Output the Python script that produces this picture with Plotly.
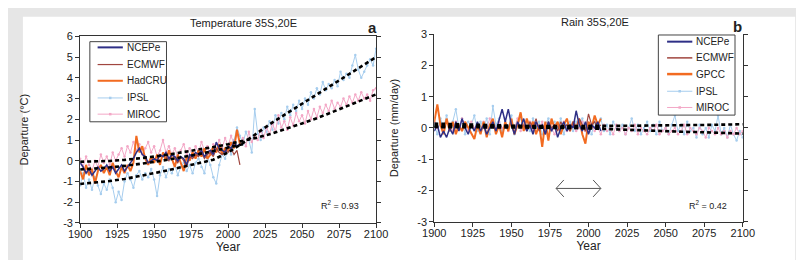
import plotly.graph_objects as go

W, H = 804, 260
def px(x): return x / W
def py(y): return 1 - y / H

# ---------------- data ----------------
years_model = list(range(1900, 2101, 2))
years_obs = list(range(1900, 2009, 2))
years_ecmwf = list(range(1958, 2009, 2))
fit_years = list(range(1900, 2101, 10))
fit_years_obs = list(range(1900, 2011, 10))
x_ticks = [1900, 1925, 1950, 1975, 2000, 2025, 2050, 2075, 2100]
temp_ticks = [-3, -2, -1, 0, 1, 2, 3, 4, 5, 6]
rain_ticks = [-3, -2, -1, 0, 1, 2, 3]

temp_ipsl = [
    -1.2, -0.6, -1.3, -0.9, -1.4, -0.8, -1.2, -1.6, -1.1, -1.4,
    -0.9, -1.3, -2.0, -1.5, -1.9, -1.0, -0.6, -0.9, -1.3, -0.7,
    -0.5, -0.9, -0.6, -0.8, -0.4, -0.9, -1.7, -0.7, -0.3, -0.8,
    -0.4, -0.6, -0.2, -0.7, -0.3, -0.1, -0.5, -0.2, -0.6, -0.1,
    0.1, -0.3, -0.6, 0.2, -0.2, -0.8, -1.1, -0.2, 0.3, 0.1,
    0.6, 0.3, 1.0, 1.6, 1.2, 0.8, 1.4, 1.0, 0.4, 2.5,
    1.3, 1.0, 1.6, 1.4, 1.9, 1.5, 2.2, 1.8, 2.3, 2.0,
    2.6, 2.2, 2.7, 2.4, 2.9, 2.5, 3.0, 2.7, 3.3, 3.0,
    3.5, 3.2, 3.8, 3.4, 3.7, 3.5, 3.9, 3.6, 4.3, 3.9,
    4.2, 4.0, 4.6, 5.1, 4.4, 4.0, 4.3, 4.6, 4.9, 4.6,
    5.4]
temp_miroc = [
    0.1, -0.3, 0.2, -0.2, -0.5, 0.0, -0.3, 0.3, -0.1, 0.2,
    -0.2, 0.4, 0.0, 0.3, 0.6, 0.2, 0.7, 0.4, 0.9, 0.5,
    0.8, 0.3, 0.6, 0.9, 0.4, 0.7, 0.2, 0.5, 1.0, 0.4,
    0.7, 0.3, 0.6, 0.2, 0.5, 0.8, 0.3, 0.6, 0.2, 0.7,
    0.4, 0.9, 0.5, 0.7, 0.3, 0.8, 0.5, 1.0, 0.6, 1.1,
    0.7, 1.2, 0.8, 1.3, 0.9, 1.1, 0.7, 1.4, 0.9, 1.2,
    1.0, 1.5, 1.1, 1.6, 1.3, 1.8, 1.4, 2.2, 1.6, 1.9,
    1.5, 2.1, 1.7, 2.3, 1.9, 2.2, 1.8, 2.4, 2.0, 2.5,
    2.1, 2.6, 2.3, 2.7, 2.4, 2.9, 2.5, 2.8, 2.6, 3.0,
    2.7, 3.1, 2.8, 3.2, 2.9, 3.3, 3.0, 3.2, 2.9, 3.4,
    3.5]
temp_ncepe = [
    -0.1, -0.3, -0.6, -0.4, -0.7, -0.5, -0.3, -0.5, -0.4, -0.2,
    -0.5, -0.3, -0.6, -0.4, -0.2, -0.5, -0.3, -0.1, 0.1, 0.4,
    0.6, 0.3, 0.2, -0.1, 0.0, 0.1, 0.0, 0.3, 0.2, 0.4,
    0.1, 0.3, 0.2, 0.0, 0.2, 0.1, -0.2, 0.3, 0.2, 0.4,
    0.3, 0.5, 0.2, 0.4, 0.5, 0.3, 0.9, 0.6, 0.5, 0.4,
    0.7, 0.6, 0.9, 0.7, 0.8]
temp_ecmwf = [
    0.2, 0.0, 0.3, 0.1, -0.1, 0.2, 0.0, -0.3, 0.2, 0.1,
    0.3, 0.2, 0.4, 0.1, 0.3, 0.4, 0.2, 0.6, 0.4, 0.3,
    0.5, 0.4, 0.6, 0.3, 0.5, -0.2]
temp_hadcru = [
    -0.5, -0.9, -0.2, -0.7, -0.4, -1.1, -0.5, -0.2, -0.6, -0.3,
    -0.7, -0.1, -0.5, -0.8, -0.3, -0.6, -0.2, -0.5, -0.1, 1.2,
    0.4, 0.7, 0.1, -0.2, 0.2, -0.1, 0.3, -0.2, 0.4, 0.0,
    0.5, 0.1, -0.3, 0.3, -0.1, -0.5, 0.2, 0.0, 0.4, 0.1,
    0.5, 0.2, 0.6, 0.1, 0.3, 0.7, 0.4, 0.8, 0.3, 0.6,
    0.5, 0.9, 0.6, 1.5, 0.8]
temp_fit_ipsl = [-1.12, -1.06, -0.98, -0.88, -0.75, -0.6, -0.45, -0.3, -0.12, 0.05,
                 0.4, 0.85, 1.35, 1.85, 2.3, 2.75, 3.2, 3.65, 4.1, 4.55, 5.0]
temp_fit_miroc = [-0.05, -0.04, -0.01, 0.04, 0.11, 0.2, 0.3, 0.41, 0.53, 0.66,
                  0.8, 0.95, 1.12, 1.32, 1.55, 1.8, 2.05, 2.33, 2.62, 2.9, 3.2]
temp_fit_obs = [-0.42, -0.38, -0.32, -0.25, -0.16, -0.06, 0.06, 0.18, 0.32, 0.47, 0.63, 0.8]

rain_ipsl = [
    0.1, -0.2, 0.3, 0.0, 0.4, -0.1, 0.2, 0.6, 0.0, 0.3,
    -0.2, 0.2, 0.1, 0.4, -0.1, 0.2, 0.0, 0.3, -0.2, 0.7,
    0.1, 0.3, -0.1, 0.2, 0.0, 0.4, -0.2, 0.1, 0.3, 0.0,
    0.2, -0.1, 0.3, 0.0, 0.2, -0.2, 0.1, 0.3, -0.1, 0.2,
    0.0, 0.3, -0.2, 0.1, 0.2, -0.1, 0.2, 0.0, 0.3, -0.1,
    0.1, -0.2, 0.2, 0.0, 0.3, -0.1, 0.1, -0.2, 0.2, 0.0,
    -0.1, 0.1, -0.2, 0.0, 0.3, -0.1, 0.1, -0.2, 0.0, 0.2,
    -0.1, 0.1, -0.2, 0.2, -0.1, 0.0, -0.2, 0.1, 0.4, -0.1,
    0.1, -0.2, 0.2, -0.1, 0.0, -0.3, 0.1, -0.2, 0.0, -0.3,
    0.1, -0.1, 0.4, -0.2, 0.0, -0.3, 0.1, -0.2, -0.4, -0.1,
    -0.3]
rain_miroc = [
    0.2, 0.0, 0.1, -0.1, 0.2, 0.1, -0.1, 0.2, 0.0, 0.3,
    0.1, -0.1, 0.2, 0.0, 0.1, -0.1, 0.2, 0.0, 0.3, 0.1,
    -0.1, 0.2, 0.0, 0.1, -0.1, 0.2, 0.0, 0.3, -0.1, 0.1,
    0.0, 0.2, -0.1, 0.1, 0.0, 0.2, -0.1, 0.1, 0.0, -0.2,
    0.1, 0.0, 0.2, -0.1, 0.0, 0.1, -0.1, 0.0, 0.2, -0.1,
    0.0, 0.1, -0.1, 0.0, -0.2, 0.1, -0.1, 0.0, -0.2, 0.1,
    -0.1, 0.0, -0.2, 0.0, -0.1, 0.1, -0.2, 0.0, -0.1, -0.2,
    0.0, -0.1, 0.1, -0.2, -0.1, 0.0, -0.2, -0.1, 0.0, -0.2,
    -0.1, 0.1, -0.2, 0.0, -0.1, -0.2, 0.0, -0.1, -0.3, 0.0,
    -0.1, -0.2, 0.0, -0.2, -0.1, -0.3, -0.1, -0.2, 0.0, -0.2,
    -0.1]
rain_ncepe = [
    -0.1, 0.1, -0.3, -0.1, -0.3, 0.0, -0.2, 0.2, -0.1, 0.3,
    0.0, -0.2, 0.1, -0.1, 0.2, -0.1, 0.1, -0.2, 0.0, 0.2,
    -0.1, 0.3, 0.6, 0.2, 0.6, 0.1, -0.2, 0.2, 0.0, 0.3,
    -0.1, 0.1, -0.2, 0.2, 0.0, 0.1, -0.2, 0.2, -0.1, 0.1,
    -0.3, 0.0, 0.2, -0.1, 0.1, 0.0, 0.55, 0.1, -0.1, 0.2,
    -0.2, 0.1, 0.0, 0.2, -0.1]
rain_ecmwf = [
    0.1, -0.1, 0.2, 0.0, 0.3, -0.1, 0.1, -0.2, 0.2, 0.0,
    0.1, -0.1, 0.2, 0.0, 0.1, -0.1, 0.2, 0.0, 0.3, 0.1,
    -0.1, 0.45, 0.1, 0.2, 0.0, 0.1]
rain_gpcc = [
    0.2, 0.75, 0.1, -0.2, 0.3, -0.1, 0.2, -0.2, 0.1, -0.1,
    0.2, 0.0, -0.2, -0.35, 0.1, -0.2, 0.2, -0.3, 0.1, 0.3,
    -0.2, 0.1, -0.3, 0.2, -0.1, 0.3, -0.2, 0.1, 0.5, -0.1,
    0.3, 0.0, 0.2, -0.2, 0.1, -0.6, 0.2, -0.4, 0.3, 0.0,
    0.2, -0.2, 0.1, 0.3, -0.1, 0.2, 0.0, 0.3, -0.2, -0.5,
    0.2, 0.0, 0.4, 0.1, 0.3]
rain_fit_ipsl = [0.14, 0.13, 0.12, 0.10, 0.09, 0.07, 0.06, 0.04, 0.02, 0.0,
                 -0.02, -0.03, -0.05, -0.07, -0.08, -0.10, -0.12, -0.13, -0.15, -0.16, -0.18]
rain_fit_miroc = [0.05, 0.05, 0.05, 0.05, 0.05, 0.05, 0.05, 0.05, 0.06, 0.06,
                  0.06, 0.06, 0.07, 0.07, 0.08, 0.08, 0.09, 0.10, 0.10, 0.11, 0.12]
rain_fit_obs = [0.03, 0.03, 0.02, 0.02, 0.02, 0.01, 0.01, 0.01, 0.0, 0.0, 0.0, 0.0]

# ---------------- style ----------------
C_NCEP = "#2e2f86"
C_ECMWF = "#a0463f"
C_OBS = "#f26b21"
C_IPSL = "#a6cdee"
C_MIROC = "#f3a7c6"
FONT = "Liberation Sans, Arial, sans-serif"
TXT = "#222222"

fig = go.Figure()

def add_panel(xa, ya, ipsl, miroc, obs, ecmwf, ncepe, fits, obs_name):
    fig.add_trace(go.Scatter(x=years_model, y=ipsl, name="IPSL", mode="lines+markers",
                             line=dict(color=C_IPSL, width=1), marker=dict(size=2.5, color=C_IPSL),
                             xaxis=xa, yaxis=ya, showlegend=False))
    fig.add_trace(go.Scatter(x=years_model, y=miroc, name="MIROC", mode="lines+markers",
                             line=dict(color=C_MIROC, width=1), marker=dict(size=2.5, color=C_MIROC),
                             xaxis=xa, yaxis=ya, showlegend=False))
    fig.add_trace(go.Scatter(x=years_obs, y=obs, name=obs_name, mode="lines",
                             line=dict(color=C_OBS, width=2), xaxis=xa, yaxis=ya, showlegend=False))
    fig.add_trace(go.Scatter(x=years_ecmwf, y=ecmwf, name="ECMWF", mode="lines",
                             line=dict(color=C_ECMWF, width=1.2), xaxis=xa, yaxis=ya, showlegend=False))
    fig.add_trace(go.Scatter(x=years_obs, y=ncepe, name="NCEPe", mode="lines",
                             line=dict(color=C_NCEP, width=1.5), xaxis=xa, yaxis=ya, showlegend=False))
    for fx, fy in fits:
        fig.add_trace(go.Scatter(x=fx, y=fy, mode="lines", name="trend",
                                 line=dict(color="black", width=2.6, dash="4px,3px"),
                                 xaxis=xa, yaxis=ya, showlegend=False))

add_panel("x", "y", temp_ipsl, temp_miroc, temp_hadcru, temp_ecmwf, temp_ncepe,
          [(fit_years, temp_fit_ipsl), (fit_years, temp_fit_miroc), (fit_years_obs, temp_fit_obs)],
          "HadCRU")
add_panel("x2", "y2", rain_ipsl, rain_miroc, rain_gpcc, rain_ecmwf, rain_ncepe,
          [(fit_years, rain_fit_ipsl), (fit_years, rain_fit_miroc), (fit_years_obs, rain_fit_obs)],
          "GPCC")

axis_common = dict(showgrid=False, zeroline=False, showline=True, linecolor="#333333", linewidth=1,
                   ticks="outside", ticklen=4, tickcolor="#333333",
                   tickfont=dict(family=FONT, size=11, color=TXT))

fig.update_layout(
    width=W, height=H, margin=dict(l=0, r=0, t=0, b=0),
    paper_bgcolor="#e6e6e6", plot_bgcolor="white",
    font=dict(family=FONT, color=TXT),
    showlegend=False,
    xaxis=dict(domain=[px(62), px(367)], range=[1900, 2100], tickvals=x_ticks, mirror=True,
               anchor="y", ticklabelstandoff=-3,
               title=dict(text="Year", font=dict(size=12), standoff=2), **axis_common),
    yaxis=dict(domain=[py(219), py(23.5)], range=[-3, 6], tickvals=temp_ticks,
               ticktext=[str(v) for v in temp_ticks], mirror="ticks",
               anchor="x", title=dict(text="Departure (°C)", font=dict(size=11), standoff=32),
               **axis_common),
    xaxis2=dict(domain=[px(427), px(745)], range=[1900, 2100], tickvals=x_ticks, mirror=False,
                anchor="y2", ticklabelstandoff=-3,
                title=dict(text="Year", font=dict(size=12), standoff=2), **axis_common),
    yaxis2=dict(domain=[py(218), py(21)], range=[-3, 3], tickvals=rain_ticks,
                ticktext=[str(v) for v in rain_ticks], mirror="ticks",
                anchor="x2", title=dict(text="Departure (mm/day)", font=dict(size=11), standoff=16),
                **axis_common),
)

shapes = [
    dict(type="rect", xref="paper", yref="paper", x0=px(3), x1=px(799), y0=0, y1=py(3),
         fillcolor="white", line=dict(width=0), layer="below"),
    # double arrow (rain panel)
    dict(type="path", xref="x2", yref="y2",
         path="M 1979,-1.93 L 2008,-1.93 M 1984,-1.66 L 1979,-1.93 L 1984,-2.2 M 2003,-1.66 L 2008,-1.93 L 2003,-2.2",
         line=dict(color="#555555", width=1)),
]

def ann(text, x, y, size, xanchor="center"):
    return dict(text=text, x=px(x), y=py(y), xref="paper", yref="paper", xanchor=xanchor,
                yanchor="middle", showarrow=False, font=dict(family=FONT, size=size, color=TXT))

annotations = [
    ann("Temperature 35S,20E", 230, 9, 11),
    ann("Rain 35S,20E", 593, 8, 11),
    ann("<b>a</b>", 363, 14, 15),
    ann("<b>b</b>", 740, 13, 15),
    ann("R<sup>2</sup> = 0.93", 352, 200, 9, "right"),
    ann("R<sup>2</sup> = 0.42", 731, 200, 9, "right"),
]

def add_legend(box, entries, line_x0, line_x1, text_x):
    x0, y0, x1, y1 = box
    shapes.append(dict(type="rect", xref="paper", yref="paper", x0=px(x0), x1=px(x1),
                       y0=py(y1), y1=py(y0), line=dict(color="#444444", width=1),
                       fillcolor="white"))
    for name, color, width, marker, yy in entries:
        shapes.append(dict(type="line", xref="paper", yref="paper", x0=px(line_x0), x1=px(line_x1),
                           y0=py(yy), y1=py(yy), line=dict(color=color, width=width)))
        if marker:
            cx = (line_x0 + line_x1) / 2
            shapes.append(dict(type="rect", xref="paper", yref="paper", x0=px(cx - 1.3), x1=px(cx + 1.3),
                               y0=py(yy + 1.3), y1=py(yy - 1.3), fillcolor=color, line=dict(width=0)))
        annotations.append(ann(name, text_x, yy, 10, "left"))

add_legend((72, 29, 151, 113),
           [("NCEPe", C_NCEP, 2, False, 35), ("ECMWF", C_ECMWF, 1.2, False, 53),
            ("HadCRU", C_OBS, 2, False, 70), ("IPSL", C_IPSL, 1, True, 88),
            ("MIROC", C_MIROC, 1, True, 105)],
           80, 106, 108)
add_legend((658, 22, 737, 106),
           [("NCEPe", C_NCEP, 2, False, 29), ("ECMWF", C_ECMWF, 1.5, False, 46),
            ("GPCC", C_OBS, 2.5, False, 63), ("IPSL", C_IPSL, 1, True, 81),
            ("MIROC", C_MIROC, 1, True, 98)],
           667, 693, 695)

fig.update_layout(shapes=shapes, annotations=annotations)
fig.write_html("out.html")
